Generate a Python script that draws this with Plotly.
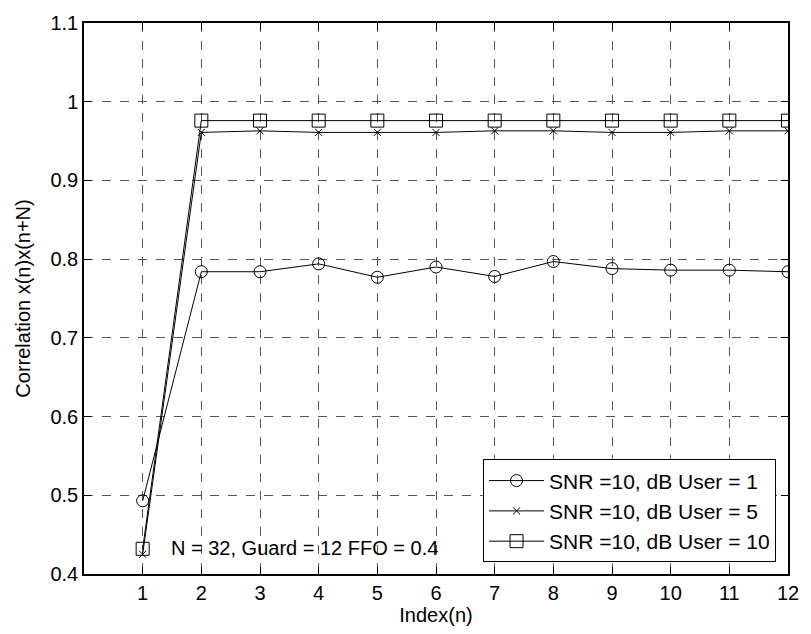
import plotly.graph_objects as go

index_n = [1, 2, 3, 4, 5, 6, 7, 8, 9, 10, 11, 12]
user1 = [0.493, 0.784, 0.784, 0.794, 0.777, 0.790, 0.778, 0.797, 0.788, 0.786, 0.786, 0.784]
user5 = [0.425, 0.961, 0.963, 0.961, 0.961, 0.961, 0.963, 0.963, 0.961, 0.961, 0.963, 0.963]
user10 = [0.432, 0.976, 0.976, 0.976, 0.976, 0.976, 0.976, 0.976, 0.976, 0.976, 0.976, 0.976]
names = ["SNR =10, dB User = 1", "SNR =10, dB User = 5", "SNR =10, dB User = 10"]
x_ticks = list(range(1, 13))
y_ticks = [0.4, 0.5, 0.6, 0.7, 0.8, 0.9, 1.0, 1.1]
y_tick_text = ["0.4", "0.5", "0.6", "0.7", "0.8", "0.9", "1", "1.1"]
note = "N = 32, Guard = 12 FFO = 0.4"

font = "Liberation Sans, Arial, sans-serif"

fig = go.Figure()
fig.add_trace(go.Scatter(x=index_n, y=user1, name=names[0], mode="lines+markers",
                         line=dict(color="black", width=1),
                         marker=dict(symbol="circle-open", size=12, color="black", line=dict(width=1))))
fig.add_trace(go.Scatter(x=index_n, y=user5, name=names[1], mode="lines+markers",
                         line=dict(color="black", width=1),
                         marker=dict(symbol="x-thin-open", size=7, color="black", line=dict(width=1))))
fig.add_trace(go.Scatter(x=index_n, y=user10, name=names[2], mode="lines+markers",
                         line=dict(color="black", width=1),
                         marker=dict(symbol="square-open", size=13, color="black", line=dict(width=1))))

fig.add_annotation(x=1.45, y=0.4325, text=note, showarrow=False, xanchor="left", yanchor="middle",
                   font=dict(family=font, size=20, color="black"))

axis_common = dict(showline=True, linecolor="black", linewidth=1.5, mirror="ticks",
                   ticks="inside", ticklen=7, tickcolor="black", showgrid=True,
                   gridcolor="#555555", griddash="dash", gridwidth=1, zeroline=False,
                   tickfont=dict(family=font, size=20, color="black"))

fig.update_xaxes(range=[0, 12], tickvals=x_ticks, title=dict(text="Index(n)", standoff=4,
                 font=dict(family=font, size=20, color="black")), **axis_common)
fig.update_yaxes(range=[0.4, 1.1], tickvals=y_ticks, ticktext=y_tick_text,
                 title=dict(text="Correlation x(n)x(n+N)", standoff=14,
                            font=dict(family=font, size=20, color="black")), **axis_common)

fig.update_layout(
    width=811, height=634,
    margin=dict(l=84, r=14, t=18, b=55),
    paper_bgcolor="white", plot_bgcolor="white",
    showlegend=True,
    legend=dict(x=0.983, y=0.021, xanchor="right", yanchor="bottom",
                bgcolor="white", bordercolor="black", borderwidth=1,
                font=dict(family=font, size=21, color="black"),
                tracegroupgap=0, itemwidth=55),
)

fig.write_html("out.html", config={"displayModeBar": False},
               post_script="document.body.style.margin='0';document.body.style.overflow='hidden';")
